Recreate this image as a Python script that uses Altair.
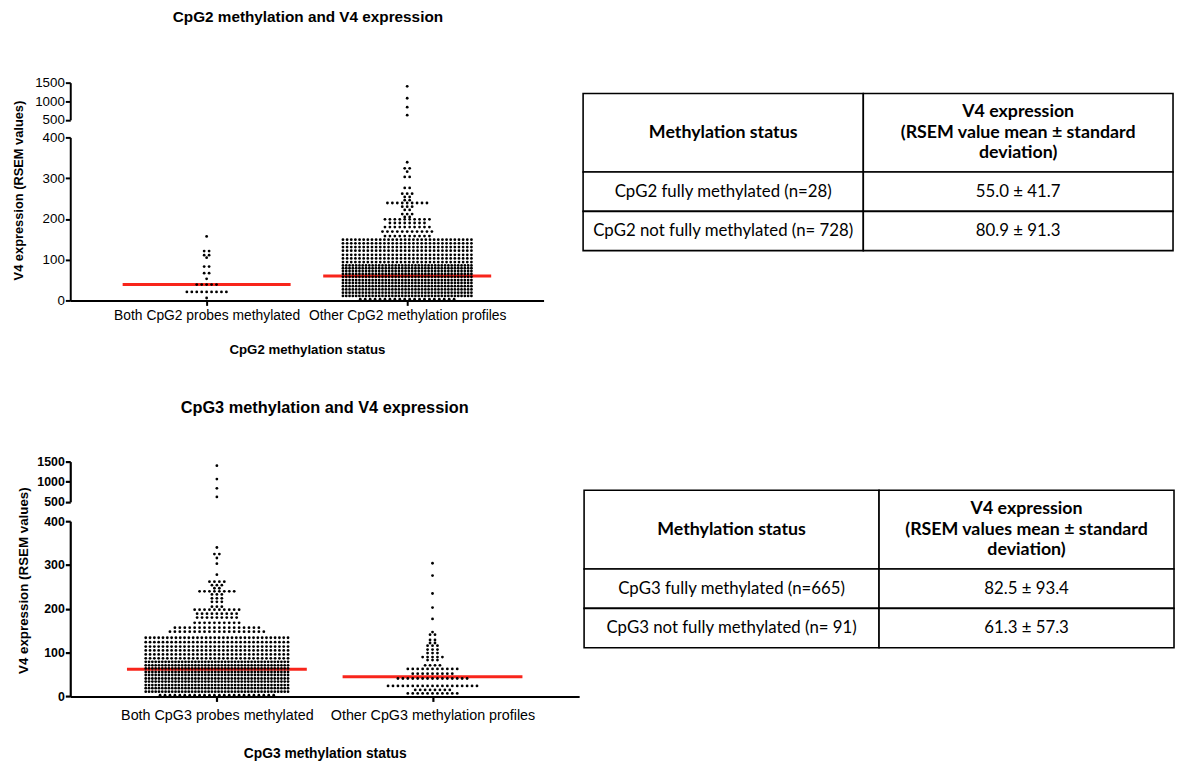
import altair as alt
import pandas as pd

FONT = "Liberation Sans"
TFONT = "Lato"
RED = "#f8251b"

TOP_TITLE = "CpG2 methylation and V4 expression"
TOP_X_TITLE = "CpG2 methylation status"
BOT_TITLE = "CpG3 methylation and V4 expression"
BOT_X_TITLE = "CpG3 methylation status"
Y_TITLE = "V4 expression (RSEM values)"

TOP_CATS = ["Both CpG2 probes methylated", "Other CpG2 methylation profiles"]
BOT_CATS = ["Both CpG3 probes methylated", "Other CpG3 methylation profiles"]

# swarm rows: (RSEM value, number of dots in that row)
TOP_BOTH_ROWS = [(157, 1), (121, 2), (111, 2), (105, 1), (83, 2), (67, 2), (53, 1),
                 (39, 5), (21, 9), (6, 1)]
TOP_OTHER_ROWS = [(1400, 1), (1080, 1), (840, 1), (625, 1),
                  (339, 1), (324, 2), (316, 1), (303, 2), (276, 2), (262, 3), (254, 2),
                  (246, 2), (239, 9), (230, 3), (222, 2), (212, 3), (205, 2), (199, 10),
                  (190, 8), (180, 10), (169, 11), (158, 10),
                  (149, 32), (140, 32), (131, 32), (122, 32), (112, 32), (103, 32), (94, 32),
                  (86, 40), (79, 40), (72, 40), (65, 40), (58, 40), (50, 40), (43, 40),
                  (35, 40), (27, 40), (19, 40), (11, 40), (3, 20)]
BOT_BOTH_ROWS = [(1400, 1), (1065, 1), (835, 1), (623, 1),
                 (340, 1), (325, 2), (316, 1), (303, 1), (278, 1), (262, 4), (254, 3),
                 (247, 2), (240, 8), (233, 3), (224, 3), (216, 3), (205, 3), (198, 10),
                 (189, 9), (180, 9), (168, 10), (157, 18), (148, 20),
                 (134, 34), (124, 34), (114, 34), (105, 34), (96, 34), (87, 34),
                 (79, 44), (71, 44), (64, 44), (56, 44), (49, 44), (41, 44), (34, 44),
                 (26, 44), (19, 44), (11, 44), (3, 24)]
BOT_OTHER_ROWS = [(304, 1), (276, 1), (235, 1), (203, 1), (177, 1), (147, 1), (141, 2),
                  (129, 2), (122, 2), (116, 3), (107, 3), (99, 3), (90, 5), (83, 3),
                  (71, 4), (63, 11), (52, 9), (41, 15), (24, 19), (15, 8), (7, 11)]

TOP_MEDIANS = [39, 60]
BOT_MEDIANS = [62, 45]

Y_LOW_TICKS = [0, 100, 200, 300, 400]
Y_HIGH_TICKS = [500, 1000, 1500]

TABLE1_HEADER = ["Methylation status", "V4 expression\n(RSEM value mean  \u00b1 standard\ndeviation)"]
TABLE1_ROWS = [["CpG2 fully methylated (n=28)", "55.0 \u00b1 41.7"],
               ["CpG2 not fully methylated (n= 728)", "80.9 \u00b1 91.3"]]
TABLE2_HEADER = ["Methylation status", "V4 expression\n(RSEM values mean  \u00b1 standard\ndeviation)"]
TABLE2_ROWS = [["CpG3 fully methylated (n=665)", "82.5 \u00b1 93.4"],
               ["CpG3 not fully methylated (n= 91)", "61.3 \u00b1 57.3"]]


def swarm_df(cats, rows_list, step, max_w):
    recs = []
    for cat, rows in zip(cats, rows_list):
        for value, count in rows:
            sp = step if count < 2 else min(step, max_w / (count - 1))
            for i in range(count):
                recs.append({"cat": cat, "value": value, "dx": (i - (count - 1) / 2) * sp})
    return pd.DataFrame(recs)


def block(cats, rows_list, medians, title, xtitle, P):
    df = swarm_df(cats, rows_list, P["step"], P["max_w"])
    hi = df[df["value"] >= 500]
    lo = df[df["value"] <= 400]
    xscale = alt.Scale(type="point", domain=cats, padding=P["pad"])
    off = alt.XOffset("dx:Q", scale=alt.Scale(domain=[-100, 100], range=[-100, 100]))
    dots = dict(size=P["dot"], color="black", opacity=1)
    yax = dict(domainColor="black", domainWidth=P["lw"], tickColor="black", tickWidth=P["lw"],
               tickSize=5, labelFont=FONT, labelFontSize=P["ylab_size"], format="d",
               labelFontWeight=P["ylab_weight"], labelColor="black", grid=False, labelPadding=1)
    upper = alt.Chart(hi).mark_circle(**dots).encode(
        x=alt.X("cat:N", scale=xscale, axis=None),
        xOffset=off,
        y=alt.Y("value:Q", scale=alt.Scale(domain=[500, 1500], nice=False, zero=False),
                axis=alt.Axis(values=Y_HIGH_TICKS, title=None, **yax)),
    ).properties(width=P["w"], height=P["up_h"])

    xaxis = alt.Axis(title=xtitle, labelAngle=0, domainColor="black", domainWidth=P["lw"],
                     tickColor="black", tickWidth=P["lw"], tickSize=5, labelFont=FONT,
                     labelFontSize=P["xlab_size"], labelColor="black",
                     labelPadding=P["xlab_pad"], labelLimit=400,
                     labelOverlap=False, titleFont=FONT, titleFontSize=P["xtitle_size"],
                     titleFontWeight="bold", titleColor="black", titlePadding=P["xtitle_pad"])
    ylow = alt.Y("value:Q", scale=alt.Scale(domain=[0, 400], nice=False),
                 axis=alt.Axis(values=Y_LOW_TICKS, title=Y_TITLE, titleFont=FONT,
                               titleFontSize=P["ytitle_size"], titleFontWeight="bold",
                               titleColor="black", titleX=P["ytitle_x"], titleY=P["ytitle_y"],
                               **yax))
    med = alt.Chart(pd.DataFrame({"cat": cats, "value": medians})).mark_tick(
        color=RED, thickness=3, size=P["med_w"], opacity=1
    ).encode(x=alt.X("cat:N", scale=xscale, axis=xaxis), y=ylow)
    pts = alt.Chart(lo).mark_circle(**dots).encode(
        x=alt.X("cat:N", scale=xscale, axis=xaxis), xOffset=off, y=ylow)
    lower = alt.layer(med, pts).properties(width=P["w"], height=P["low_h"])
    return alt.vconcat(upper, lower, spacing=P["gap"], bounds="flush",
                       title=alt.Title(title, font=FONT, fontSize=P["title_size"],
                                       fontWeight="bold", color="black", anchor="middle",
                                       dx=P["title_dx"], offset=P["title_offset"]))


def table(header, rows, P):
    col_edges = [0, P["split"], 1]
    row_units = [2, 1, 1]
    cell_recs, text_recs = [], []
    y0 = 0
    for r, (cells, u) in enumerate(zip([header] + rows, row_units)):
        for c, txt in enumerate(cells):
            rec = dict(x0=col_edges[c], x1=col_edges[c + 1], y0=y0, y1=y0 + u,
                       xc=(col_edges[c] + col_edges[c + 1]) / 2, yc=y0 + u / 2, text=txt,
                       bold=(r == 0), nlines=txt.count("\n") + 1)
            cell_recs.append(rec)
            text_recs.append(rec)
        y0 += u
    xs = alt.Scale(domain=[0, 1], range=[0, P["w"]])
    ys = alt.Scale(domain=[0, 4], range=[P["off"], P["off"] + P["h"]])
    cells = alt.Chart(pd.DataFrame(cell_recs)).mark_rect(
        fill="white", stroke="black", strokeWidth=1.6
    ).encode(x=alt.X("x0:Q", scale=xs, axis=None), x2="x1",
             y=alt.Y("y0:Q", scale=ys, axis=None), y2="y1")
    layers = [cells]
    groups = {}
    for rec in text_recs:
        groups.setdefault((rec["bold"], rec["nlines"]), []).append(rec)
    for (bold, n), recs in groups.items():
        layers.append(
            alt.Chart(pd.DataFrame(recs)).mark_text(
                font=TFONT, fontSize=P["hfs"] if bold else P["fs"],
                fontWeight="bold" if bold else "normal", lineBreak="\n",
                lineHeight=P["lh"], color="black", align="center", baseline="middle",
                dy=-(n - 1) / 2 * P["lh"]
            ).encode(x=alt.X("xc:Q", scale=xs, axis=None),
                     y=alt.Y("yc:Q", scale=ys, axis=None), text="text:N")
        )
    return alt.layer(*layers).properties(width=P["w"], height=P["off"] + P["h"])


P_TOP = dict(w=479, up_h=37.6, low_h=165, gap=17.4, pad=0.68, step=5, max_w=130, dot=8,
             lw=2, ylab_size=13.5, ylab_weight="normal", med_w=170, ytitle_size=13,
             ytitle_x=-45, ytitle_y=53.3, xlab_size=14, xlab_pad=3, xtitle_size=13.4,
             xtitle_pad=21, title_size=15.5, title_offset=51, title_dx=30)
P_BOT = dict(w=515, up_h=40.7, low_h=177.4, gap=19.3, pad=0.68, step=5, max_w=144, dot=8,
             lw=2.2, ylab_size=12.5, ylab_weight="bold", med_w=182, ytitle_size=13.5,
             ytitle_x=-40, ytitle_y=59.7, xlab_size=14.5, xlab_pad=7, xtitle_size=14,
             xtitle_pad=25.5, title_size=16.5, title_offset=40, title_dx=27)
T_TOP = dict(w=597, off=11, h=159, split=0.475, fs=17, hfs=18, lh=21)
T_BOT = dict(w=597, off=29, h=159.4, split=0.5, fs=17, hfs=18, lh=21)

block1 = block(TOP_CATS, [TOP_BOTH_ROWS, TOP_OTHER_ROWS], TOP_MEDIANS, TOP_TITLE, TOP_X_TITLE, P_TOP)
block2 = block(BOT_CATS, [BOT_BOTH_ROWS, BOT_OTHER_ROWS], BOT_MEDIANS, BOT_TITLE, BOT_X_TITLE, P_BOT)
table1 = table(TABLE1_HEADER, TABLE1_ROWS, T_TOP)
table2 = table(TABLE2_HEADER, TABLE2_ROWS, T_BOT)

row1 = alt.hconcat(block1, table1, spacing=39)
row2 = alt.hconcat(block2, table2, spacing=4)
chart = alt.vconcat(row1, row2, spacing=43.5).properties(
    padding={"left": 4, "top": -3, "right": 0, "bottom": 0}
).configure_view(stroke=None)

chart.save("out.html", embed_options={"renderer": "svg", "actions": False})
